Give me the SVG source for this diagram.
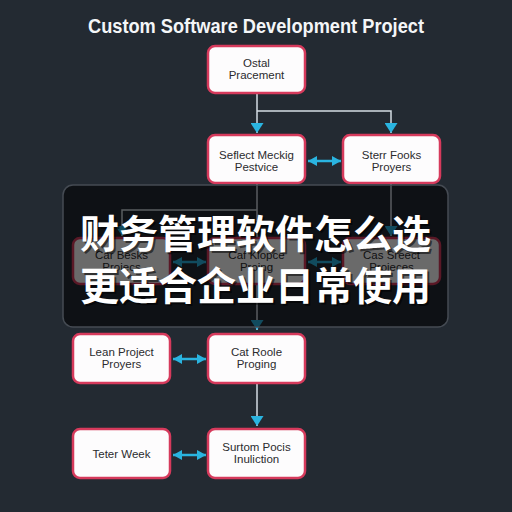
<svg xmlns="http://www.w3.org/2000/svg" width="512" height="512" viewBox="0 0 512 512">
<defs>
<style>
.bg{fill:#232a32}
.title{font-family:"Liberation Sans",Arial,sans-serif;font-weight:bold;font-size:19.5px;fill:#f4f6f8}
.node rect{fill:#fdfcfd;stroke:#d63a5c;stroke-width:2.5}
.node text{font-family:"Liberation Sans",Arial,sans-serif;font-size:11.5px;fill:#2b2b2e;text-anchor:middle}
.flow{stroke:#d5dde4;stroke-width:1.5;fill:none}
.dbl{stroke:#2ab4e0;stroke-width:2.5;fill:none}
.cn{font-family:"Noto Sans CJK SC","Noto Sans CJK TC",sans-serif;font-weight:bold;font-size:39px;text-anchor:middle}
</style>
<marker id="ah" viewBox="0 0 10 13" refX="10" refY="6.5" markerWidth="10" markerHeight="13" markerUnits="userSpaceOnUse" orient="auto">
<path d="M0,0 L10,6.5 L0,13 z" fill="#2ab4e0"/>
</marker>
<marker id="dh" viewBox="0 0 9 10" refX="9" refY="5" markerWidth="9" markerHeight="10" markerUnits="userSpaceOnUse" orient="auto-start-reverse">
<path d="M0,0 L9,5 L0,10 z" fill="#2ab4e0"/>
</marker>
</defs>
<rect class="bg" x="0" y="0" width="512" height="512"/>
<text class="title" x="256" y="33" text-anchor="middle" textLength="336" lengthAdjust="spacingAndGlyphs">Custom Software Development Project</text>

<g id="connectors">
<path class="flow" d="M257,93 V133" marker-end="url(#ah)"/>
<path class="flow" d="M257,111 H391 V133" marker-end="url(#ah)"/>
<path class="dbl" d="M308,161 H341" marker-start="url(#dh)" marker-end="url(#dh)"/>
<path class="flow" d="M257,183 V237"/>
<path class="flow" d="M257,210 H122 V236" marker-end="url(#ah)"/>
<path class="flow" d="M391,183 V236" marker-end="url(#ah)"/>
<path class="dbl" d="M173,262 H206" marker-start="url(#dh)" marker-end="url(#dh)"/>
<path class="dbl" d="M308,262 H341" marker-start="url(#dh)" marker-end="url(#dh)"/>
<path class="flow" d="M257,284 V330" marker-end="url(#ah)"/>
<path class="dbl" d="M173,359 H206" marker-start="url(#dh)" marker-end="url(#dh)"/>
<path class="flow" d="M257,383 V426" marker-end="url(#ah)"/>
<path class="dbl" d="M173,455 H206" marker-start="url(#dh)" marker-end="url(#dh)"/>
</g>

<g id="n1" class="node"><rect x="208" y="46" width="97" height="47" rx="7"/><text x="256.5" y="67">Ostal</text><text x="256.5" y="79">Pracement</text></g>
<g id="n2" class="node"><rect x="208" y="135" width="97" height="48" rx="7"/><text x="256.5" y="159">Seflect Meckig</text><text x="256.5" y="171">Pestvice</text></g>
<g id="n3" class="node"><rect x="343" y="135" width="97" height="48" rx="7"/><text x="391.5" y="159">Sterr Fooks</text><text x="391.5" y="171">Proyers</text></g>
<g id="n4" class="node"><rect x="73" y="238" width="97" height="46" rx="7"/><text x="121.5" y="259">Car Besks</text><text x="121.5" y="271">Proiecs</text></g>
<g id="n5" class="node"><rect x="208" y="238" width="97" height="46" rx="7"/><text x="256.5" y="259">Caf Klopce</text><text x="256.5" y="271">Proing</text></g>
<g id="n6" class="node"><rect x="343" y="238" width="97" height="46" rx="7"/><text x="391.5" y="259">Cas Sreect</text><text x="391.5" y="271">Proieces</text></g>
<g id="n7" class="node"><rect x="73" y="334" width="97" height="49" rx="7"/><text x="121.5" y="356">Lean Project</text><text x="121.5" y="368">Proyers</text></g>
<g id="n8" class="node"><rect x="208" y="334" width="97" height="49" rx="7"/><text x="256.5" y="356">Cat Roole</text><text x="256.5" y="368">Proging</text></g>
<g id="n9" class="node"><rect x="73" y="429" width="97" height="49" rx="7"/><text x="121.5" y="458">Teter Week</text></g>
<g id="n10" class="node"><rect x="208" y="429" width="97" height="49" rx="7"/><text x="256.5" y="451">Surtom Pocis</text><text x="256.5" y="463">Inuliction</text></g>

<g id="overlay">
<rect x="63" y="185" width="385" height="142" rx="10" fill="#000" fill-opacity="0.58" stroke="#454b53" stroke-width="1.5"/>
<text class="cn" x="257.5" y="250" fill="#000" fill-opacity="0.55">财务管理软件怎么选</text>
<text class="cn" x="257.5" y="302" fill="#000" fill-opacity="0.55">更适合企业日常使用</text>
<text class="cn" x="255.5" y="248" fill="#ffffff">财务管理软件怎么选</text>
<text class="cn" x="255.5" y="300" fill="#ffffff">更适合企业日常使用</text>
</g>
</svg>
